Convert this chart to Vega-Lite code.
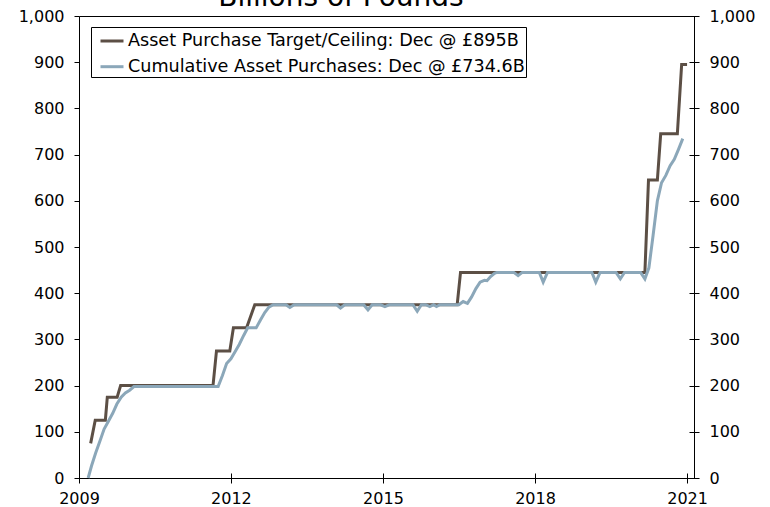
{
  "$schema": "https://vega.github.io/schema/vega-lite/v6.json",
  "width": 615,
  "height": 462,
  "autosize": {"type": "none"},
  "padding": {"left": 79, "top": 16, "right": 76, "bottom": 29},
  "background": "white",
  "config": {
    "font": "DejaVu Sans",
    "view": {"stroke": "#000000", "strokeWidth": 1}
  },
  "datasets": {
    "target": [
      {"d": "2009-03-26", "v": 75},
      {"d": "2009-04-28", "v": 125},
      {"d": "2009-07-10", "v": 125},
      {"d": "2009-07-24", "v": 175},
      {"d": "2009-10-03", "v": 175},
      {"d": "2009-10-28", "v": 200},
      {"d": "2011-08-25", "v": 200},
      {"d": "2011-09-19", "v": 275},
      {"d": "2011-12-24", "v": 275},
      {"d": "2012-01-19", "v": 325},
      {"d": "2012-04-23", "v": 325},
      {"d": "2012-06-21", "v": 375},
      {"d": "2016-06-19", "v": 375},
      {"d": "2016-07-13", "v": 445},
      {"d": "2020-03-03", "v": 445},
      {"d": "2020-03-29", "v": 645},
      {"d": "2020-06-01", "v": 645},
      {"d": "2020-06-25", "v": 745},
      {"d": "2020-10-23", "v": 745},
      {"d": "2020-11-23", "v": 895},
      {"d": "2021-01-01", "v": 895}
    ],
    "purchases": [
      {"d": "2009-03-08", "v": 0},
      {"d": "2009-04-01", "v": 26},
      {"d": "2009-05-01", "v": 54},
      {"d": "2009-06-01", "v": 80},
      {"d": "2009-07-01", "v": 106},
      {"d": "2009-08-01", "v": 123},
      {"d": "2009-09-01", "v": 140},
      {"d": "2009-10-01", "v": 160},
      {"d": "2009-11-01", "v": 175},
      {"d": "2009-12-01", "v": 184},
      {"d": "2010-01-01", "v": 190},
      {"d": "2010-02-01", "v": 198},
      {"d": "2011-10-01", "v": 198},
      {"d": "2011-11-01", "v": 222},
      {"d": "2011-12-01", "v": 248},
      {"d": "2012-01-01", "v": 258},
      {"d": "2012-02-01", "v": 274},
      {"d": "2012-03-01", "v": 289},
      {"d": "2012-04-01", "v": 308},
      {"d": "2012-05-01", "v": 325},
      {"d": "2012-07-01", "v": 325},
      {"d": "2012-08-01", "v": 342},
      {"d": "2012-09-01", "v": 358},
      {"d": "2012-10-01", "v": 370},
      {"d": "2012-11-01", "v": 375},
      {"d": "2013-02-01", "v": 375},
      {"d": "2013-03-01", "v": 369},
      {"d": "2013-04-01", "v": 375},
      {"d": "2014-02-01", "v": 375},
      {"d": "2014-03-01", "v": 368},
      {"d": "2014-04-01", "v": 375},
      {"d": "2014-08-15", "v": 375},
      {"d": "2014-09-15", "v": 364},
      {"d": "2014-10-15", "v": 375},
      {"d": "2014-12-15", "v": 375},
      {"d": "2015-01-15", "v": 371},
      {"d": "2015-02-15", "v": 375},
      {"d": "2015-08-05", "v": 375},
      {"d": "2015-09-05", "v": 361},
      {"d": "2015-10-05", "v": 375},
      {"d": "2015-11-05", "v": 375},
      {"d": "2015-12-05", "v": 371},
      {"d": "2016-01-01", "v": 375},
      {"d": "2016-01-22", "v": 371},
      {"d": "2016-02-15", "v": 375},
      {"d": "2016-07-01", "v": 375},
      {"d": "2016-08-01", "v": 382},
      {"d": "2016-09-01", "v": 378},
      {"d": "2016-10-01", "v": 392},
      {"d": "2016-11-01", "v": 410},
      {"d": "2016-12-01", "v": 424},
      {"d": "2017-01-01", "v": 428},
      {"d": "2017-01-20", "v": 427},
      {"d": "2017-02-15", "v": 436},
      {"d": "2017-03-15", "v": 443},
      {"d": "2017-04-01", "v": 445},
      {"d": "2017-08-01", "v": 445},
      {"d": "2017-09-01", "v": 438},
      {"d": "2017-10-01", "v": 445},
      {"d": "2018-02-01", "v": 445},
      {"d": "2018-03-01", "v": 424},
      {"d": "2018-04-01", "v": 445},
      {"d": "2019-02-15", "v": 445},
      {"d": "2019-03-15", "v": 424},
      {"d": "2019-04-15", "v": 445},
      {"d": "2019-08-08", "v": 445},
      {"d": "2019-09-08", "v": 431},
      {"d": "2019-10-08", "v": 445},
      {"d": "2020-02-01", "v": 445},
      {"d": "2020-03-03", "v": 431},
      {"d": "2020-04-01", "v": 455},
      {"d": "2020-05-01", "v": 525},
      {"d": "2020-06-01", "v": 600},
      {"d": "2020-07-01", "v": 639},
      {"d": "2020-08-01", "v": 655},
      {"d": "2020-09-01", "v": 676},
      {"d": "2020-10-01", "v": 690},
      {"d": "2020-11-01", "v": 712},
      {"d": "2020-12-01", "v": 734.6}
    ]
  },
  "encoding": {
    "x": {
      "field": "d",
      "type": "temporal",
      "title": null,
      "scale": {
        "type": "utc",
        "domain": [
          {"year": 2009, "month": 1, "date": 1, "utc": true},
          {"year": 2021, "month": 2, "date": 20, "utc": true}
        ]
      },
      "axis": {
        "orient": "bottom",
        "values": [
          {"year": 2009, "month": 1, "date": 1, "utc": true},
          {"year": 2012, "month": 1, "date": 1, "utc": true},
          {"year": 2015, "month": 1, "date": 1, "utc": true},
          {"year": 2018, "month": 1, "date": 1, "utc": true},
          {"year": 2021, "month": 1, "date": 1, "utc": true}
        ],
        "format": "%Y",
        "offset": -5,
        "tickSize": 10,
        "tickColor": "#000000",
        "domain": false,
        "grid": false,
        "labelFontSize": 16,
        "labelColor": "#000000",
        "labelPadding": 7,
        "labelFlush": false,
        "labelOverlap": false
      }
    }
  },
  "layer": [
    {
      "data": {"name": "target"},
      "mark": {"type": "line", "strokeWidth": 3, "interpolate": "linear"},
      "encoding": {
        "y": {
          "field": "v",
          "type": "quantitative",
          "title": null,
          "scale": {"domain": [0, 1000], "nice": false, "zero": true},
          "axis": {
            "orient": "left",
            "values": [0, 100, 200, 300, 400, 500, 600, 700, 800, 900, 1000],
            "format": ",.0f",
            "tickSize": 5,
            "tickColor": "#000000",
            "domain": false,
            "grid": false,
            "labelFontSize": 16,
            "labelColor": "#000000",
            "labelPadding": 10,
            "labelOverlap": false
          }
        },
        "color": {
          "datum": "Asset Purchase Target/Ceiling: Dec @ £895B",
          "type": "nominal",
          "scale": {
            "domain": ["Asset Purchase Target/Ceiling: Dec @ £895B", "Cumulative Asset Purchases: Dec @ £734.6B"],
            "range": ["#5c4f45", "#8ba7b9"]
          },
          "legend": {
            "title": null,
            "orient": "none",
            "legendX": 12,
            "legendY": 11,
            "strokeColor": "#000000",
            "fillColor": "#ffffff",
            "padding": 1,
            "symbolType": "stroke",
            "symbolSize": 529,
            "symbolStrokeWidth": 3,
            "symbolOffset": 7,
            "labelOffset": 3,
            "labelFontSize": 17.6,
            "labelColor": "#000000",
            "labelLimit": 800,
            "rowPadding": 3.7
          }
        }
      }
    },
    {
      "data": {"name": "purchases"},
      "mark": {"type": "line", "strokeWidth": 3, "interpolate": "linear"},
      "encoding": {
        "y": {
          "field": "v",
          "type": "quantitative",
          "title": null,
          "axis": {
            "orient": "right",
            "values": [0, 100, 200, 300, 400, 500, 600, 700, 800, 900, 1000],
            "format": ",.0f",
            "offset": -5,
            "tickSize": 10,
            "tickColor": "#000000",
            "domain": false,
            "grid": false,
            "labelFontSize": 16,
            "labelColor": "#000000",
            "labelPadding": 10,
            "labelOverlap": false
          }
        },
        "color": {
          "datum": "Cumulative Asset Purchases: Dec @ £734.6B",
          "type": "nominal"
        }
      }
    },
    {
      "data": {"values": [{"label": "Billions of Pounds", "d": "2014-03-04", "v": 1000}]},
      "mark": {"type": "text", "fontSize": 28, "align": "center", "baseline": "alphabetic", "dy": -10, "color": "#000000", "clip": false},
      "encoding": {
        "y": {"field": "v", "type": "quantitative", "axis": null},
        "text": {"field": "label", "type": "nominal"}
      }
    }
  ],
  "resolve": {"axis": {"y": "independent"}}
}
